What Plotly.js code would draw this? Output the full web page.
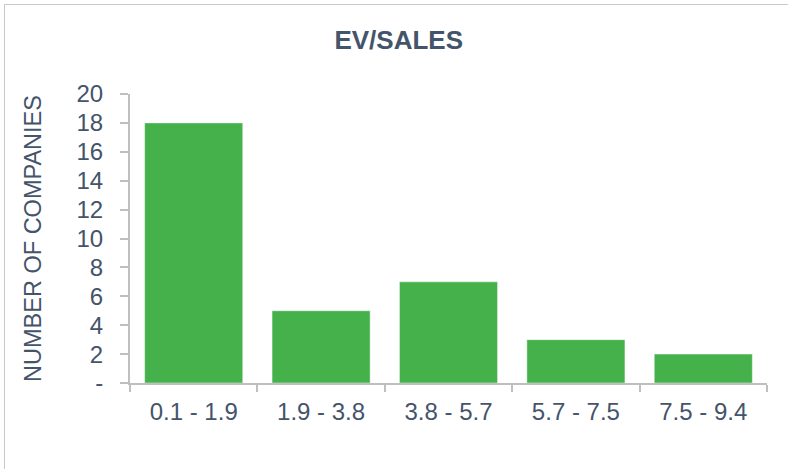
<!DOCTYPE html>
<html>
<head>
<meta charset="utf-8">
<script src="https://cdn.plot.ly/plotly-3.0.1.min.js"></script>
<style>
  html, body { margin: 0; padding: 0; background: #ffffff; }
  #wrap { position: relative; width: 788px; height: 469px; overflow: hidden; }
  #chart { position: absolute; left: 0; top: 0; width: 788px; height: 469px; }
  #frame { position: absolute; left: 4px; top: 4px; width: 800px; height: 480px;
           border-left: 1px solid #c9c9c9; border-top: 1px solid #c9c9c9; pointer-events: none; }
</style>
</head>
<body>
<div id="wrap">
  <div id="chart"></div>
  <div id="frame"></div>
</div>
<script>
const categories = ["0.1 - 1.9", "1.9 - 3.8", "3.8 - 5.7", "5.7 - 7.5", "7.5 - 9.4"];
const companies = [18, 5, 7, 3, 2];
const yTickVals = [0, 2, 4, 6, 8, 10, 12, 14, 16, 18, 20];
const yTickText = ["-", "2", "4", "6", "8", "10", "12", "14", "16", "18", "20"];

const textColor = "#44546a";
const axisColor = "#bfbfbf";
const fontFamily = "Liberation Sans, Arial, sans-serif";

const trace = {
  type: "bar",
  x: categories,
  y: companies,
  marker: { color: "#45b14b", line: { color: "rgba(255,255,255,0.45)", width: 1 } },
  hoverinfo: "x+y"
};

const layout = {
  width: 788,
  height: 469,
  margin: { l: 130, r: 21, t: 94, b: 86 },
  paper_bgcolor: "#ffffff",
  plot_bgcolor: "#ffffff",
  bargap: 0.23,
  showlegend: false,
  font: { family: fontFamily, color: textColor },
  title: {
    text: "<b>EV/SALES</b>",
    font: { family: fontFamily, size: 26, color: textColor },
    x: 0.506, xanchor: "center", xref: "container",
    y: 0.915, yanchor: "middle", yref: "container"
  },
  xaxis: {
    type: "category",
    showline: true, linecolor: axisColor, linewidth: 2,
    ticks: "outside", tickson: "boundaries", ticklen: 7, tickcolor: axisColor, tickwidth: 2,
    showgrid: false, zeroline: false,
    tickfont: { family: fontFamily, size: 24, color: textColor },
    ticklabelstandoff: 6
  },
  yaxis: {
    range: [0, 20],
    tickvals: yTickVals,
    ticktext: yTickText,
    showline: true, linecolor: axisColor, linewidth: 2,
    ticks: "outside", ticklen: 8, tickcolor: axisColor, tickwidth: 2,
    showgrid: false, zeroline: false,
    tickfont: { family: fontFamily, size: 24, color: textColor },
    ticklabelstandoff: 12,
    title: {
      text: "NUMBER OF COMPANIES",
      font: { family: fontFamily, size: 23.5, color: textColor },
      standoff: 28
    }
  }
};

Plotly.newPlot("chart", [trace], layout, { displayModeBar: false, staticPlot: true });
</script>
</body>
</html>
